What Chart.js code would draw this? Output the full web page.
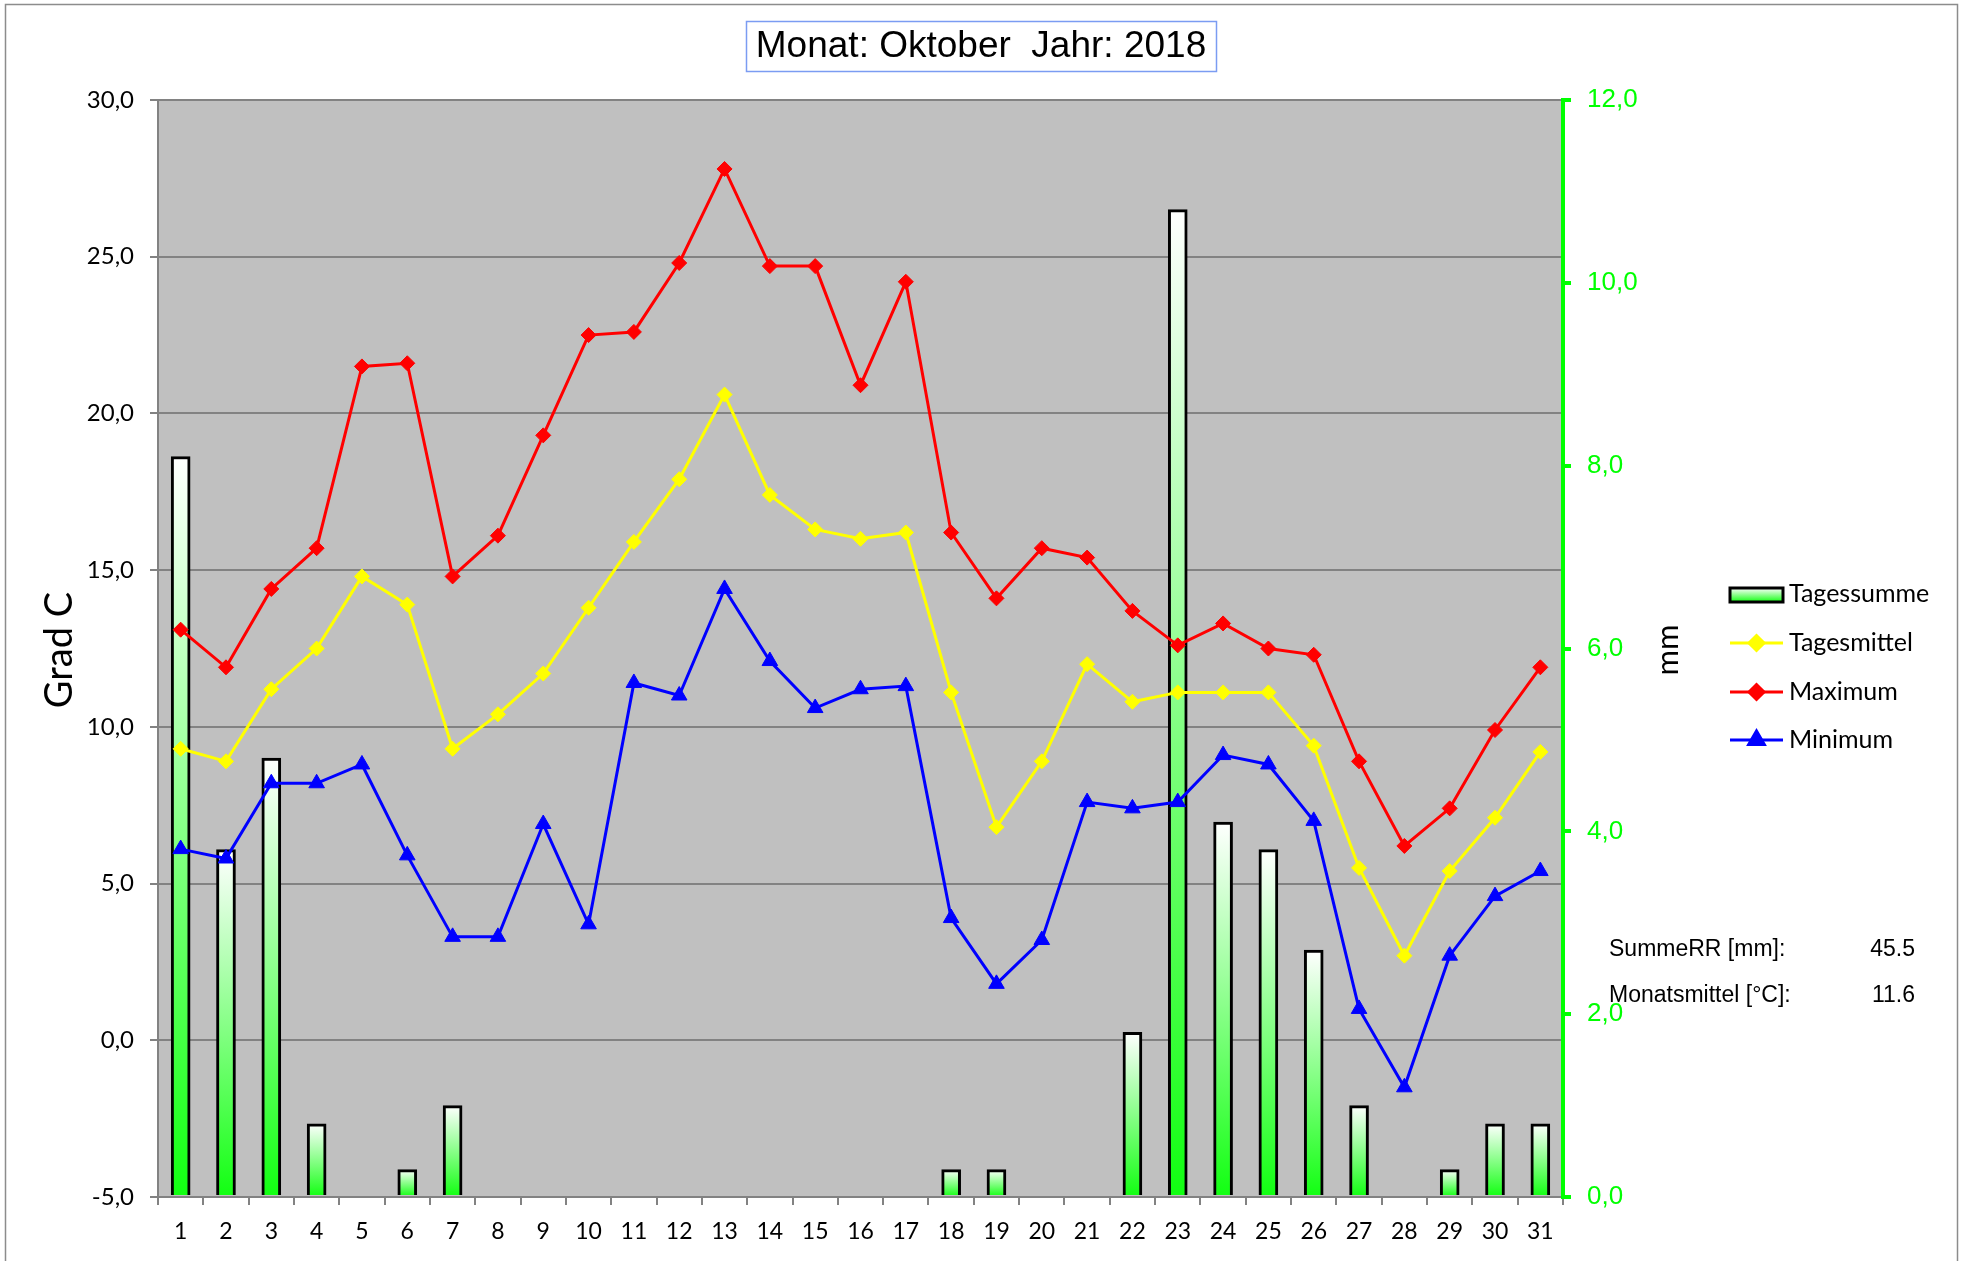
<!DOCTYPE html>
<html>
<head>
<meta charset="utf-8">
<title>Monat: Oktober Jahr: 2018</title>
<script src="https://cdn.jsdelivr.net/npm/chart.js@4.4.1/dist/chart.umd.min.js"></script>
<style>
    html, body { margin: 0; padding: 0; background: #fff; }
    #wrap { width: 1965px; height: 1261px; }
</style>
</head>
<body>
<div id="wrap"><canvas id="mainChart" width="1965" height="1261"></canvas></div>
<script>
// --- Data ---
const days = ['1','2','3','4','5','6','7','8','9','10','11','12','13','14','15','16',
              '17','18','19','20','21','22','23','24','25','26','27','28','29','30','31'];

// Niederschlag [mm]
const tagessumme = [8.1, 3.8, 4.8, 0.8, 0, 0.3, 1.0, 0, 0, 0, 0, 0, 0, 0, 0, 0,
                    0, 0.3, 0.3, 0, 0, 1.8, 10.8, 4.1, 3.8, 2.7, 1.0, 0, 0.3, 0.8, 0.8];

// Temperatur [Grad C]
const tagesmittel = [9.3, 8.9, 11.2, 12.5, 14.8, 13.9, 9.3, 10.4, 11.7, 13.8, 15.9, 17.9, 20.6, 17.4, 16.3, 16.0,
                     16.2, 11.1, 6.8, 8.9, 12.0, 10.8, 11.1, 11.1, 11.1, 9.4, 5.5, 2.7, 5.4, 7.1, 9.2];
const maximum = [13.1, 11.9, 14.4, 15.7, 21.5, 21.6, 14.8, 16.1, 19.3, 22.5, 22.6, 24.8, 27.8, 24.7, 24.7, 20.9,
                 24.2, 16.2, 14.1, 15.7, 15.4, 13.7, 12.6, 13.3, 12.5, 12.3, 8.9, 6.2, 7.4, 9.9, 11.9];
const minimum = [6.1, 5.8, 8.2, 8.2, 8.8, 5.9, 3.3, 3.3, 6.9, 3.7, 11.4, 11.0, 14.4, 12.1, 10.6, 11.2,
                 11.3, 3.9, 1.8, 3.2, 7.6, 7.4, 7.6, 9.1, 8.8, 7.0, 1.0, -1.5, 2.7, 4.6, 5.4];

// --- Styles ---
const GREY = '#828282';
const GREEN = '#00ff00';
const CALIBRI = 'Lato, "Open Sans", sans-serif';
const ARIAL = '"Liberation Sans", Arial, sans-serif';

const fmtComma = v => Number(v).toFixed(1).replace('.', ',');

// bar fill: white at the top, green at the bottom of each bar
function barGradient(ctx) {
    const chart = ctx.chart;
    if (!chart.chartArea || ctx.type !== 'data') return GREEN;
    const yS = chart.scales.y2;
    const top = yS.getPixelForValue(ctx.raw);
    const bottom = yS.getPixelForValue(0);
    if (!(bottom - top > 0)) return '#ffffff';
    const g = chart.ctx.createLinearGradient(0, top, 0, bottom);
    g.addColorStop(0, '#ffffff');
    g.addColorStop(1, '#11ff11');
    return g;
}

// --- Plugin: background, title box, axis titles, legend, summary ---
const decoPlugin = {
    id: 'deco',
    beforeDraw(chart) {
        const { ctx, chartArea: a } = chart;
        ctx.save();
        ctx.fillStyle = '#ffffff';
        ctx.fillRect(0, 0, chart.width, chart.height);
        ctx.fillStyle = '#c0c0c0';
        ctx.fillRect(a.left, a.top, a.right - a.left, a.bottom - a.top);
        ctx.restore();
    },
    afterDraw(chart) {
        const ctx = chart.ctx;
        ctx.save();

        // outer frame
        ctx.strokeStyle = '#8c8c8c';
        ctx.lineWidth = 1.5;
        ctx.strokeRect(5.5, 4.5, 1952, 1262);

        // title with box
        ctx.font = '37px ' + ARIAL;
        ctx.fillStyle = '#000';
        ctx.textAlign = 'center';
        ctx.textBaseline = 'middle';
        ctx.fillText('Monat: Oktober  Jahr: 2018', 981, 47);
        ctx.strokeStyle = '#7b9cf2';
        ctx.lineWidth = 1.5;
        ctx.strokeRect(746.5, 21.5, 470, 50);

        // axis titles
        ctx.textBaseline = 'alphabetic';
        ctx.save();
        ctx.translate(72, 650);
        ctx.rotate(-Math.PI / 2);
        ctx.font = '38px ' + CALIBRI;
        ctx.fillText('Grad C', 0, 0);
        ctx.restore();
        ctx.save();
        ctx.translate(1678, 650);
        ctx.rotate(-Math.PI / 2);
        ctx.font = '31px ' + CALIBRI;
        ctx.fillText('mm', 0, 0);
        ctx.restore();

        // legend
        const lx = 1730, lw = 53, tx = 1789;
        ctx.font = '25px ' + CALIBRI;
        ctx.textAlign = 'left';
        ctx.textBaseline = 'middle';

        const g = ctx.createLinearGradient(0, 588, 0, 602);
        g.addColorStop(0, '#ffffff');
        g.addColorStop(1, '#11ff11');
        ctx.fillStyle = g;
        ctx.fillRect(lx, 588, lw, 14);
        ctx.strokeStyle = '#000';
        ctx.lineWidth = 3;
        ctx.strokeRect(lx, 588, lw, 14);
        ctx.fillStyle = '#000';
        ctx.fillText('Tagessumme', tx, 594);

        const lineItems = chart.data.datasets.filter(d => d.type === 'line');
        const rows = [643, 692, 740];
        lineItems.forEach((d, i) => {
            const y = rows[i];
            ctx.strokeStyle = d.borderColor;
            ctx.lineWidth = 3;
            ctx.beginPath();
            ctx.moveTo(lx, y);
            ctx.lineTo(lx + lw, y);
            ctx.stroke();
            ctx.fillStyle = d.borderColor;
            Chart.helpers.drawPoint(ctx, {
                pointStyle: d.pointStyle, radius: d.pointRadius, borderWidth: 1, rotation: 0
            }, lx + lw / 2, y);
            ctx.fillStyle = '#000';
            ctx.fillText(d.label, tx, y);
        });

        // summary
        const summe = tagessumme.reduce((s, v) => s + v, 0);
        const mittel = tagesmittel.reduce((s, v) => s + v, 0) / tagesmittel.length;
        ctx.font = '23px ' + ARIAL;
        ctx.fillText('SummeRR [mm]:', 1609, 950);
        ctx.fillText('Monatsmittel [\u00B0C]:', 1609, 996);
        ctx.textAlign = 'right';
        ctx.fillText(summe.toFixed(1), 1915, 950);
        ctx.fillText(mittel.toFixed(1), 1915, 996);

        ctx.restore();
    }
};

// --- Chart ---
function lineSet(label, data, color, style, radius, order) {
    return {
        type: 'line',
        label: label,
        data: data,
        yAxisID: 'y',
        borderColor: color,
        backgroundColor: color,
        pointBackgroundColor: color,
        pointBorderColor: color,
        borderWidth: 3,
        pointStyle: style,
        pointRadius: radius,
        pointBorderWidth: 1,
        tension: 0,
        order: order
    };
}

new Chart(document.getElementById('mainChart'), {
    data: {
        labels: days,
        datasets: [
            lineSet('Tagesmittel', tagesmittel, '#ffff00', 'rectRot', 7.5, 3),
            lineSet('Maximum', maximum, '#ff0000', 'rectRot', 7.5, 2),
            lineSet('Minimum', minimum, '#0000ff', 'triangle', 9, 1),
            {
                type: 'bar',
                label: 'Tagessumme',
                data: tagessumme,
                yAxisID: 'y2',
                backgroundColor: barGradient,
                borderColor: '#000',
                borderWidth: 3,
                barThickness: 19,
                order: 10
            }
        ]
    },
    options: {
        responsive: false,
        devicePixelRatio: 1,
        animation: false,
        layout: { padding: { top: 100, left: 0, right: 0, bottom: 0 } },
        plugins: {
            legend: { display: false },
            title: { display: false },
            tooltip: { enabled: false }
        },
        scales: {
            x: {
                offset: true,
                grid: { offset: true, drawOnChartArea: false, tickLength: 8, color: GREY, lineWidth: 2 },
                border: { color: GREY, width: 2 },
                ticks: { color: '#000', font: { family: CALIBRI, size: 23 }, padding: 13, maxRotation: 0, autoSkip: false },
                afterFit: s => { s.height = 64; }
            },
            y: {
                position: 'left',
                min: -5,
                max: 30,
                ticks: { stepSize: 5, color: '#000', font: { family: CALIBRI, size: 24 }, padding: 16, callback: fmtComma },
                grid: { color: GREY, lineWidth: 2, tickLength: 8 },
                border: { color: GREY, width: 2 },
                afterFit: s => { s.width = 158; }
            },
            y2: {
                position: 'right',
                min: 0,
                max: 12,
                ticks: { stepSize: 2, color: GREEN, font: { family: ARIAL, size: 26 }, padding: 16, callback: fmtComma },
                grid: { drawOnChartArea: false, color: GREEN, lineWidth: 4, tickLength: 8 },
                border: { color: GREEN, width: 4 },
                afterFit: s => { s.width = 402; }
            }
        }
    },
    plugins: [decoPlugin]
});
</script>
</body>
</html>
